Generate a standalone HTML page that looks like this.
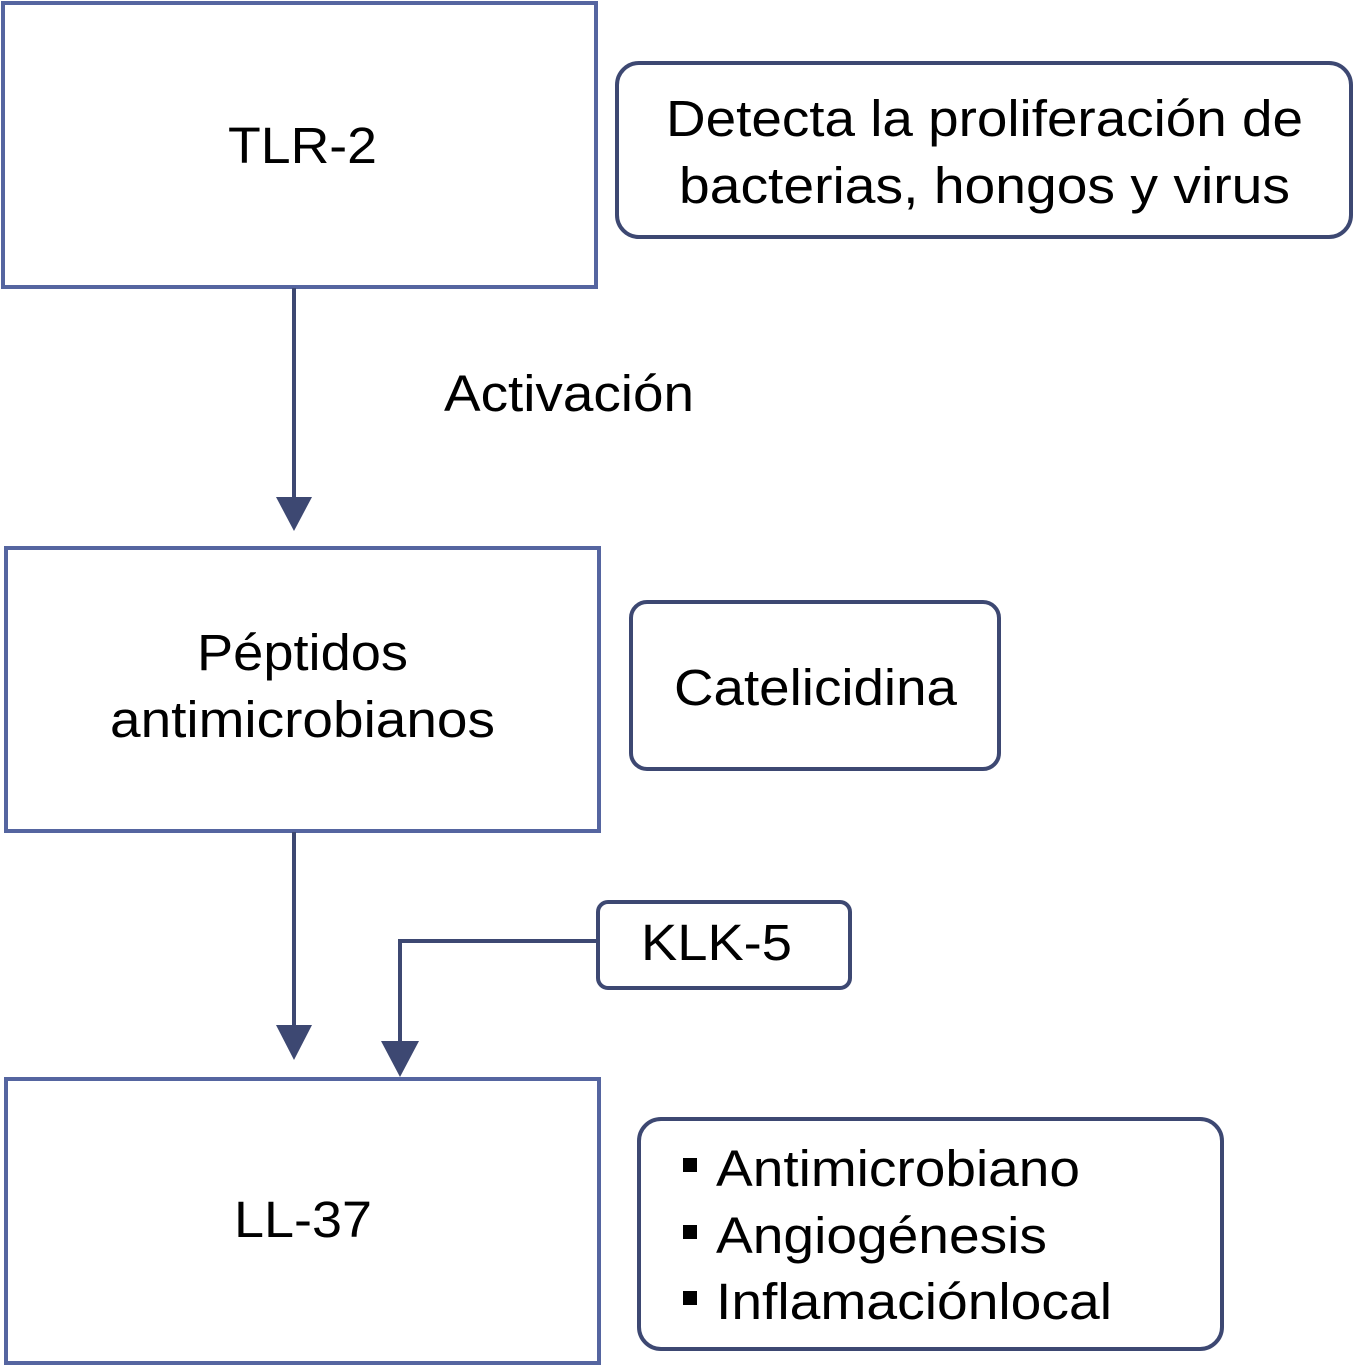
<!DOCTYPE html>
<html><head><style>html,body{margin:0;padding:0;background:#fff}svg{display:block}</style></head>
<body>
<svg width="1354" height="1367" viewBox="0 0 1354 1367" xmlns="http://www.w3.org/2000/svg" font-family="Liberation Sans, sans-serif" fill="#000">
<g fill="none" stroke="#5565a0" stroke-width="4">
<rect x="3" y="3" width="593" height="284"/>
<rect x="6" y="548" width="593" height="283"/>
<rect x="6" y="1079" width="593" height="284"/>
</g>
<g fill="none" stroke="#3d4872" stroke-width="4">
<rect x="617" y="63" width="734" height="174" rx="22"/>
<rect x="631" y="602" width="368" height="167" rx="16"/>
<rect x="598" y="902" width="252" height="86" rx="10"/>
<rect x="639" y="1119" width="583" height="230" rx="22"/>
</g>
<g stroke="#3d4872" stroke-width="4" fill="none">
<line x1="294" y1="288" x2="294" y2="500"/>
<line x1="294" y1="832" x2="294" y2="1028"/>
<polyline points="598,941 400,941 400,1045"/>
</g>
<g fill="#3d4872">
<polygon points="276,497 312,497 294,531"/>
<polygon points="276,1025 312,1025 294,1060"/>
<polygon points="381,1041 419,1041 400,1077"/>
</g>
<g font-size="51" lengthAdjust="spacingAndGlyphs">
<text x="228" y="163" textLength="149" lengthAdjust="spacingAndGlyphs">TLR-2</text>
<text x="666" y="136" textLength="637" lengthAdjust="spacingAndGlyphs">Detecta la proliferación de</text>
<text x="679" y="203" textLength="611" lengthAdjust="spacingAndGlyphs">bacterias, hongos y virus</text>
<text x="444" y="411" textLength="250" lengthAdjust="spacingAndGlyphs">Activación</text>
<text x="197" y="670" textLength="211" lengthAdjust="spacingAndGlyphs">Péptidos</text>
<text x="110" y="737" textLength="385" lengthAdjust="spacingAndGlyphs">antimicrobianos</text>
<text x="674" y="705" textLength="283" lengthAdjust="spacingAndGlyphs">Catelicidina</text>
<text x="234" y="1237" textLength="138" lengthAdjust="spacingAndGlyphs">LL-37</text>
<text x="641" y="960" textLength="151" lengthAdjust="spacingAndGlyphs">KLK-5</text>
<text x="716" y="1186" textLength="364" lengthAdjust="spacingAndGlyphs">Antimicrobiano</text>
<text x="716" y="1253" textLength="331" lengthAdjust="spacingAndGlyphs">Angiogénesis</text>
<text x="716" y="1319" textLength="396" lengthAdjust="spacingAndGlyphs">Inflamaciónlocal</text>
</g>
<rect x="683" y="1158" width="14" height="14"/>
<rect x="683" y="1225" width="14" height="14"/>
<rect x="683" y="1291" width="14" height="14"/>
</svg>
</body></html>
